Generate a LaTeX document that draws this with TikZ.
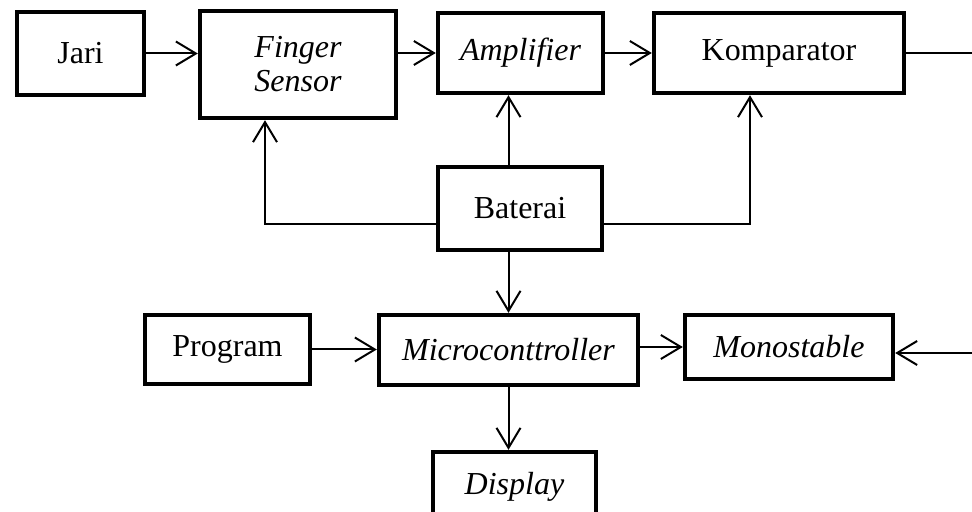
\documentclass[tikz,border=0pt]{standalone}
\usepackage{fontspec}
\setmainfont{Liberation Serif}
\usetikzlibrary{arrows.meta}

\begin{document}
\begin{tikzpicture}[x=0.5pt, y=-0.5pt,
    blok/.style={draw, line width=2.2pt, inner sep=0pt, align=center,
                 font=\fontsize{16}{17}\selectfont},
    panah/.style={line width=1pt, -{Straight Barb[length=10pt,width=12pt]}},
    garis/.style={line width=1pt}]

\useasboundingbox (0,0) rectangle (972,512);
\clip (0,0) rectangle (972,512);

% Top row
\node[blok, minimum width=63.5pt, minimum height=41.5pt] (jari) at (80.5,53.5) {Jari};
\node[blok, minimum width=98pt, minimum height=53.5pt] (fs) at (298,64.5) {\itshape Finger\\ \itshape Sensor};
\node[blok, minimum width=82.5pt, minimum height=40pt] (amp) at (520.5,53) {\itshape Amplifier};
\node[blok, minimum width=125pt, minimum height=40pt] (komp) at (779,53) {Komparator};

% Power supply
\node[blok, minimum width=82pt, minimum height=41.5pt] (bat) at (520,208.5) {Baterai};

% Bottom row
\node[blok, minimum width=82.5pt, minimum height=34.5pt] (prog) at (227.5,349.5) {Program};
\node[blok, minimum width=129.5pt, minimum height=35pt] (mcu) at (508.5,350) {\itshape Microconttroller};
\node[blok, minimum width=104pt, minimum height=32pt] (mono) at (789,347) {\itshape Monostable};
\node[blok, minimum width=81.5pt, minimum height=35pt] (disp) at (514.5,487) {\itshape Display};

% Free ends at the right edge
\coordinate (kout) at (972,53);
\coordinate (min) at (972,353);

% Signal path
\draw[panah] (jari.east) -- (jari.east -| fs.west);
\draw[panah] (amp.west -| fs.east) -- (amp.west);
\draw[panah] (amp.east) -- (komp.west);
\draw[garis] (komp.east) -- (kout);
\draw[panah] (min) -- (min -| mono.east);

% Supply lines from the battery
\draw[panah] ([yshift=-8pt]bat.west) -| ([xshift=-16.5pt]fs.south);
\draw[panah] ([yshift=-8pt]bat.east) -| ([xshift=-14.5pt]komp.south);
\draw[panah] (bat.north -| mcu) -- (amp.south -| mcu);
\draw[panah] (bat.south -| mcu) -- (mcu.north);

% Microcontroller
\draw[panah] (prog.east) -- (prog.east -| mcu.west);
\draw[panah] (mono.west -| mcu.east) -- (mono.west);
\draw[panah] (mcu.south) -- (disp.north -| mcu);

\end{tikzpicture}
\end{document}
